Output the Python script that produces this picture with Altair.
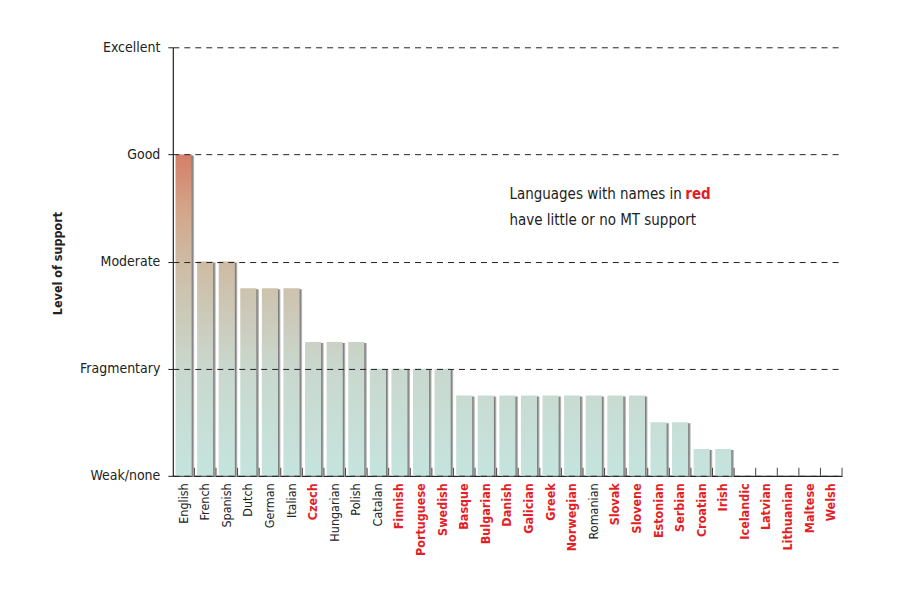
import altair as alt
import pandas as pd

languages = ["English", "French", "Spanish", "Dutch", "German", "Italian", "Czech",
             "Hungarian", "Polish", "Catalan", "Finnish", "Portuguese", "Swedish",
             "Basque", "Bulgarian", "Danish", "Galician", "Greek", "Norwegian",
             "Romanian", "Slovak", "Slovene", "Estonian", "Serbian", "Croatian",
             "Irish", "Icelandic", "Latvian", "Lithuanian", "Maltese", "Welsh"]
support = [3, 2, 2, 1.75, 1.75, 1.75, 1.25, 1.25, 1.25, 1, 1, 1, 1,
           0.75, 0.75, 0.75, 0.75, 0.75, 0.75, 0.75, 0.75, 0.75,
           0.5, 0.5, 0.25, 0.25, 0, 0, 0, 0, 0]
little_support = ["Czech", "Finnish", "Portuguese", "Swedish", "Basque", "Bulgarian",
                  "Danish", "Galician", "Greek", "Norwegian", "Slovak", "Slovene",
                  "Estonian", "Serbian", "Croatian", "Irish", "Icelandic", "Latvian",
                  "Lithuanian", "Maltese", "Welsh"]
level_names = ["Weak/none", "Fragmentary", "Moderate", "Good", "Excellent"]
level_values = [0, 1, 2, 3, 4]
note_line1 = "Languages with names in "
note_red = "red"
note_line2 = "have little or no MT support"

FONT = "Liberation Sans Narrow, DejaVu Sans Condensed, Arial Narrow, sans-serif"
RED = "#e31e26"
INK = "#222222"

# colour ramp by absolute level (used to build each bar's gradient)
ramp_levels = [0, 1, 2, 2.5, 3]
ramp_colors = ["#c5e4de", "#c9d8ce", "#cebba4", "#d3a489", "#d57e68"]


def hex2rgb(h):
    h = h.lstrip("#")
    return [int(h[i:i + 2], 16) for i in (0, 2, 4)]


def color_at(v):
    for i in range(len(ramp_levels) - 1):
        a, b = ramp_levels[i], ramp_levels[i + 1]
        if a <= v <= b:
            t = (v - a) / (b - a)
            ca, cb = hex2rgb(ramp_colors[i]), hex2rgb(ramp_colors[i + 1])
            c = [round(ca[k] + (cb[k] - ca[k]) * t) for k in range(3)]
            return "#%02x%02x%02x" % tuple(c)
    return ramp_colors[-1]


def gradient_for(h):
    stops = [alt.GradientStop(offset=0, color=color_at(0))]
    for lv in ramp_levels:
        if 0 < lv < h:
            stops.append(alt.GradientStop(offset=lv / h, color=color_at(lv)))
    stops.append(alt.GradientStop(offset=1, color=color_at(h)))
    return alt.LinearGradient(gradient="linear", stops=stops, x1=0, x2=0, y1=1, y2=0)


df = pd.DataFrame({"lang": languages, "level": support})
df_ticks = pd.DataFrame({"lang": languages, "level": [0] * len(languages),
                         "top": [0.075] * len(languages)})

red_test = "indexof(" + str(little_support) + ", datum.value) >= 0"
label_expr = str(level_names) + "[datum.value]"

x_scale = alt.Scale(paddingInner=0.25, paddingOuter=0.125)
x_axis = alt.Axis(title=None, labelAngle=-90, labelFont=FONT, labelFontSize=12.5,
                  labelPadding=7, ticks=False, domainColor=INK, domainWidth=1.2,
                  labelColor=alt.condition(red_test, alt.value(RED), alt.value(INK)),
                  labelFontWeight=alt.condition(red_test, alt.value("bold"), alt.value("normal")))
y_scale = alt.Scale(domain=[0, 4], nice=False, zero=True)
y_axis = alt.Axis(values=level_values, labelExpr=label_expr, title="Level of support",
                  titleFont=FONT, titleFontSize=12.5, titleFontWeight="bold", titleColor=INK,
                  titleX=-115, titleY=216, titleAngle=270, titleAlign="center",
                  titleBaseline="middle",
                  labelFont=FONT, labelFontSize=14, labelColor=INK, labelPadding=8,
                  tickSize=5, tickColor=INK, domainColor=INK, domainWidth=1.2,
                  grid=True, gridDash=[6, 5], gridColor=INK, gridWidth=1, zindex=1)

X = alt.X("lang:N", sort=languages, scale=x_scale, axis=x_axis)
Y = alt.Y("level:Q", scale=y_scale, axis=y_axis)

base = alt.Chart(df).transform_filter("datum.level > 0")

shadow = base.mark_bar(
    xOffset=2.5, yOffset=1,
    fill=alt.LinearGradient(gradient="linear", x1=0, x2=1, y1=0, y2=0, stops=[
        alt.GradientStop(offset=0, color="#6a6a6a"),
        alt.GradientStop(offset=0.85, color="#6a6a6a"),
        alt.GradientStop(offset=1, color="#cccccc")])
).encode(x=X, y=Y)

layers = [shadow]
for h in sorted(set(v for v in support if v > 0)):
    layers.append(
        alt.Chart(df).transform_filter(f"datum.level == {h}")
        .mark_bar(fill=gradient_for(h)).encode(x=X, y=Y)
    )

ticks = alt.Chart(df_ticks).mark_rule(color="#444444", xOffset=2.7, strokeWidth=1).encode(
    x=alt.X("lang:N", sort=languages, scale=x_scale, axis=x_axis, bandPosition=1),
    y=Y, y2="top:Q")
layers.append(ticks)

def note(txt, x, y, color=INK, weight="normal"):
    return alt.Chart(pd.DataFrame({"t": [txt]})).mark_text(
        align="left", baseline="alphabetic", font=FONT, fontSize=15,
        color=color, fontWeight=weight
    ).encode(text="t:N", x=alt.value(x), y=alt.value(y))

layers.append(note(note_line1, 337, 152))
layers.append(note(note_red, 513, 152, RED, "bold"))
layers.append(note(note_line2, 337, 178))

chart = alt.layer(*layers).properties(
    width=670, height=429,
    autosize=alt.AutoSizeParams(type="none"),
    padding={"left": 165, "top": 39, "right": 50, "bottom": 120},
    background="white",
).configure_view(stroke=None)

chart.save("out.html", embed_options={"renderer": "svg", "actions": False})
